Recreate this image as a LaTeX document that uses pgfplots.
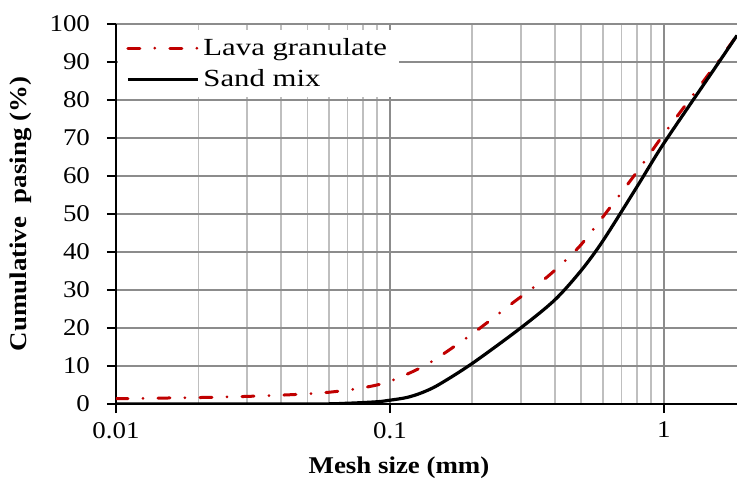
\documentclass[border=0pt]{standalone}
\usepackage{pgfplots}
\pgfplotsset{compat=1.18}
\usepackage{fontspec}
\setmainfont[FakeStretch=1.12]{Liberation Serif}
\newfontfamily\legfont[FakeStretch=1.25]{Liberation Serif}
\definecolor{lavared}{HTML}{C00000}
\definecolor{majgrid}{HTML}{8C8C8C}
\definecolor{mingrid}{HTML}{BFBFBF}
\begin{document}
\begin{tikzpicture}
\useasboundingbox (-58pt,-37pt) rectangle (310.5pt,202pt);
\begin{axis}[
  at={(0pt,0pt)}, anchor=south west,
  scale only axis, width=310.5pt, height=190pt,
  xmode=log, xmin=0.01, xmax=1.85, ymin=0, ymax=100,
  xtick={0.01,0.1,1}, xticklabels={0.01,0.1,1},
  ytick={0,10,...,100},
  axis x line=bottom, axis y line=left,
  axis line style={-, black, line width=1.2pt},
  tick align=outside, major tick length=4.5pt, minor tick length=0pt,
  tick style={black, line width=1pt},
  grid=both,
  major grid style={majgrid, line width=0.9pt},
  minor grid style={mingrid, line width=0.9pt},
  /pgf/number format/assume math mode=true,
  tick label style={font=\fontsize{12}{14}\selectfont},
  yticklabel style={xshift=-5pt},
  xticklabel style={yshift=-1pt},
  xlabel={Mesh size (mm)},
  ylabel={Cumulative \ pasing (\%)},
  label style={font=\bfseries\fontsize{12}{14}\selectfont},
  xlabel style={at={(axis description cs:0.4557,-0.168)}, anchor=center},
  ylabel style={at={(axis description cs:-0.153,0.5)}, anchor=center, rotate=0},
  legend style={at={(0.003,0.985)}, anchor=north west, fill=white, draw=none,
    font=\legfont\fontsize{12.3}{14}\selectfont, row sep=1.5pt,
    inner xsep=4pt, inner ysep=2pt},
  legend cell align=left,
  legend image code/.code={\draw[#1] (0pt,0pt) -- (35pt,0pt);},
  clip=true,
]
\addplot[lavared, line width=1.5pt, line cap=round,
  dash pattern=on 6pt off 7.5pt on 0pt off 7.5pt, smooth, tension=0.5] coordinates {
(0.01,1.4) (0.02,1.7) (0.03,2.0) (0.045,2.5) (0.06,3.1) (0.08,4.3) (0.1,6.0)
(0.137,10.5) (0.2,18.5) (0.283,26.8) (0.376,33.5) (0.487,41.1) (0.6,49.3)
(0.8,61.2) (1,71) (1.5,88) (1.85,97)
};
\addlegendentry{Lava granulate}
\addplot[black, line width=1.6pt, smooth, tension=0.5] coordinates {
(0.01,0) (0.05,0) (0.07,0.2) (0.09,0.6) (0.1,1.0) (0.115,1.7) (0.13,2.9)
(0.15,5.0) (0.2,10.7) (0.3,20) (0.4,27.4) (0.5,35.2) (0.6,43) (0.8,57.3)
(1,68.6) (1.5,87.3) (1.85,97)
};
\addlegendentry{Sand mix}
\end{axis}
\end{tikzpicture}
\end{document}
